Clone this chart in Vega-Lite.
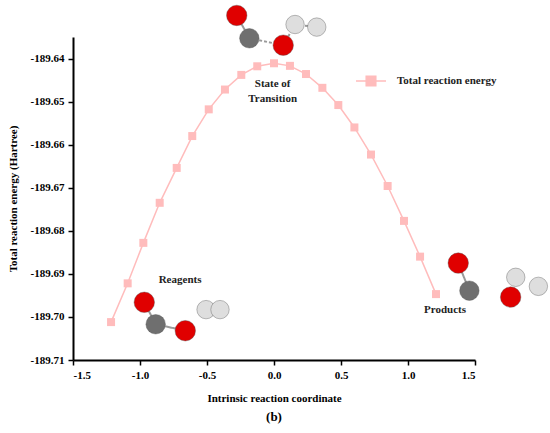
{
  "$schema": "https://vega.github.io/schema/vega-lite/v6.json",
  "autosize": {"type": "none"},
  "width": 402,
  "height": 323,
  "padding": {"left": 73, "top": 37, "right": 75, "bottom": 73},
  "background": "white",
  "title": {"text": "(b)", "orient": "bottom", "font": "'Liberation Serif', 'Times New Roman', serif", "fontSize": 13, "fontWeight": "bold", "color": "black", "offset": 8},
  "config": {
    "font": "'Liberation Serif', 'Times New Roman', serif",
    "view": {"stroke": null},
    "axis": {
      "grid": false,
      "domainColor": "black",
      "domainWidth": 2,
      "tickColor": "black",
      "tickWidth": 1.5,
      "tickSize": 5,
      "labelFont": "'Liberation Serif', 'Times New Roman', serif",
      "labelFontWeight": "bold",
      "labelFontSize": 11,
      "labelColor": "black",
      "titleFont": "'Liberation Serif', 'Times New Roman', serif",
      "titleFontWeight": "bold",
      "titleFontSize": 11,
      "titleColor": "black"
    },
    "text": {"font": "'Liberation Serif', 'Times New Roman', serif", "fontWeight": "bold", "fontSize": 11, "color": "#222"}
  },
  "datasets": {
    "energy": [
      {"irc": -1.216, "energy": -189.7012, "series": "Total reaction energy"},
      {"irc": -1.092, "energy": -189.6922, "series": "Total reaction energy"},
      {"irc": -0.975, "energy": -189.6828, "series": "Total reaction energy"},
      {"irc": -0.853, "energy": -189.6735, "series": "Total reaction energy"},
      {"irc": -0.726, "energy": -189.6654, "series": "Total reaction energy"},
      {"irc": -0.610, "energy": -189.6580, "series": "Total reaction energy"},
      {"irc": -0.487, "energy": -189.6518, "series": "Total reaction energy"},
      {"irc": -0.366, "energy": -189.6472, "series": "Total reaction energy"},
      {"irc": -0.244, "energy": -189.6438, "series": "Total reaction energy"},
      {"irc": -0.125, "energy": -189.6418, "series": "Total reaction energy"},
      {"irc": 0.0, "energy": -189.6411, "series": "Total reaction energy"},
      {"irc": 0.119, "energy": -189.6417, "series": "Total reaction energy"},
      {"irc": 0.239, "energy": -189.6436, "series": "Total reaction energy"},
      {"irc": 0.361, "energy": -189.6468, "series": "Total reaction energy"},
      {"irc": 0.480, "energy": -189.6508, "series": "Total reaction energy"},
      {"irc": 0.600, "energy": -189.6560, "series": "Total reaction energy"},
      {"irc": 0.724, "energy": -189.6623, "series": "Total reaction energy"},
      {"irc": 0.848, "energy": -189.6696, "series": "Total reaction energy"},
      {"irc": 0.970, "energy": -189.6777, "series": "Total reaction energy"},
      {"irc": 1.090, "energy": -189.6860, "series": "Total reaction energy"},
      {"irc": 1.209, "energy": -189.6947, "series": "Total reaction energy"}
    ],
    "atoms": [
      {"molecule": "ts", "atom": "O", "irc": -0.278, "energy": -189.6300},
      {"molecule": "ts", "atom": "C", "irc": -0.184, "energy": -189.6353},
      {"molecule": "ts", "atom": "H", "irc": 0.157, "energy": -189.6321},
      {"molecule": "ts", "atom": "H", "irc": 0.319, "energy": -189.6327},
      {"molecule": "ts", "atom": "O", "irc": 0.069, "energy": -189.6369},
      {"molecule": "reagents", "atom": "O", "irc": -0.968, "energy": -189.6966},
      {"molecule": "reagents", "atom": "C", "irc": -0.883, "energy": -189.7017},
      {"molecule": "reagents", "atom": "O", "irc": -0.662, "energy": -189.7032},
      {"molecule": "reagents", "atom": "H", "irc": -0.507, "energy": -189.6983},
      {"molecule": "reagents", "atom": "H", "irc": -0.403, "energy": -189.6983},
      {"molecule": "products", "atom": "O", "irc": 1.375, "energy": -189.6875},
      {"molecule": "products", "atom": "C", "irc": 1.458, "energy": -189.6939},
      {"molecule": "products", "atom": "H", "irc": 1.804, "energy": -189.6908},
      {"molecule": "products", "atom": "O", "irc": 1.766, "energy": -189.6954},
      {"molecule": "products", "atom": "H", "irc": 1.973, "energy": -189.6929}
    ],
    "bonds": [
      {"bond": "ts1", "kind": "solid", "irc": -0.278, "energy": -189.6300},
      {"bond": "ts1", "kind": "solid", "irc": -0.184, "energy": -189.6353},
      {"bond": "ts2", "kind": "dashed", "irc": -0.184, "energy": -189.6353},
      {"bond": "ts2", "kind": "dashed", "irc": 0.069, "energy": -189.6369},
      {"bond": "ts3", "kind": "dashed", "irc": 0.069, "energy": -189.6369},
      {"bond": "ts3", "kind": "dashed", "irc": 0.157, "energy": -189.6321},
      {"bond": "ts4", "kind": "dashed", "irc": 0.157, "energy": -189.6321},
      {"bond": "ts4", "kind": "dashed", "irc": 0.319, "energy": -189.6327},
      {"bond": "re1", "kind": "solid", "irc": -0.968, "energy": -189.6966},
      {"bond": "re1", "kind": "solid", "irc": -0.883, "energy": -189.7017},
      {"bond": "re2", "kind": "solid", "irc": -0.883, "energy": -189.7017},
      {"bond": "re2", "kind": "solid", "irc": -0.662, "energy": -189.7032},
      {"bond": "pr1", "kind": "solid", "irc": 1.375, "energy": -189.6875},
      {"bond": "pr1", "kind": "solid", "irc": 1.458, "energy": -189.6939}
    ],
    "labels": [
      {"text": "State of", "irc": -0.01, "energy": -189.6459},
      {"text": "Transition", "irc": -0.01, "energy": -189.6494},
      {"text": "Reagents", "irc": -0.701, "energy": -189.6914},
      {"text": "Products", "irc": 1.276, "energy": -189.6984}
    ]
  },
  "layer": [
    {
      "data": {"name": "energy"},
      "mark": {"type": "line", "strokeWidth": 1.5, "point": {"shape": "square", "size": 64, "filled": true, "opacity": 1}},
      "encoding": {
        "x": {
          "field": "irc", "type": "quantitative",
          "scale": {"domain": [-1.5, 1.5], "nice": false},
          "axis": {
            "title": "Intrinsic reaction coordinate",
            "values": [-1.5, -1.25, -1.0, -0.75, -0.5, -0.25, 0, 0.25, 0.5, 0.75, 1.0, 1.25, 1.5],
            "format": ".1f",
            "labelExpr": "abs(datum.value * 2 - round(datum.value * 2)) < 0.01 ? replace(datum.label, '\u2212', '-') : ''",
            "labelPadding": 4,
            "titlePadding": 12
          }
        },
        "y": {
          "field": "energy", "type": "quantitative",
          "scale": {"domain": [-189.71, -189.635], "nice": false, "zero": false},
          "axis": {
            "title": "Total reaction energy (Hartree)",
            "values": [-189.71, -189.705, -189.7, -189.695, -189.69, -189.685, -189.68, -189.675, -189.67, -189.665, -189.66, -189.655, -189.65, -189.645, -189.64, -189.635],
            "format": ".2f",
            "labelExpr": "abs(datum.value * 100 - round(datum.value * 100)) < 0.01 ? replace(datum.label, '\u2212', '-') : ''",
            "labelPadding": 4,
            "titlePadding": 12
          }
        },
        "color": {
          "field": "series", "type": "nominal",
          "scale": {"range": ["#ffbcbc"]},
          "legend": {
            "title": null,
            "orient": "none",
            "legendX": 282,
            "legendY": 28,
            "symbolType": "M-1,0L1,0M-0.32,-0.32L0.32,-0.32L0.32,0.32L-0.32,0.32Z",
            "symbolSize": 900,
            "symbolStrokeWidth": 1.5,
            "labelFont": "'Liberation Serif', 'Times New Roman', serif",
            "labelFontWeight": "bold",
            "labelFontSize": 11,
            "labelColor": "#222",
            "labelOffset": 10
          }
        }
      }
    },
    {
      "data": {"name": "bonds"},
      "mark": {"type": "line", "color": "#9a9a9a", "strokeWidth": 2},
      "encoding": {
        "x": {"field": "irc", "type": "quantitative"},
        "y": {"field": "energy", "type": "quantitative"},
        "detail": {"field": "bond"},
        "strokeDash": {"field": "kind", "type": "nominal", "scale": {"domain": ["solid", "dashed"], "range": [[1, 0], [3, 2]]}, "legend": null}
      }
    },
    {
      "data": {"name": "atoms"},
      "mark": {"type": "point", "shape": "circle", "filled": true, "opacity": 1, "stroke": "#555", "strokeWidth": 0.4},
      "encoding": {
        "x": {"field": "irc", "type": "quantitative"},
        "y": {"field": "energy", "type": "quantitative"},
        "color": {"field": "atom", "type": "nominal", "scale": {"domain": ["O", "C", "H"], "range": ["#e00000", "#6f6f6f", "#dedede"]}, "legend": null},
        "size": {"field": "atom", "type": "nominal", "scale": {"domain": ["O", "C", "H"], "range": [420, 340, 210]}, "legend": null}
      }
    },
    {
      "data": {"name": "labels"},
      "mark": {"type": "text", "align": "center", "baseline": "middle"},
      "encoding": {
        "x": {"field": "irc", "type": "quantitative"},
        "y": {"field": "energy", "type": "quantitative"},
        "text": {"field": "text"}
      }
    }
  ],
  "resolve": {"scale": {"color": "independent"}, "legend": {"color": "independent"}}
}
